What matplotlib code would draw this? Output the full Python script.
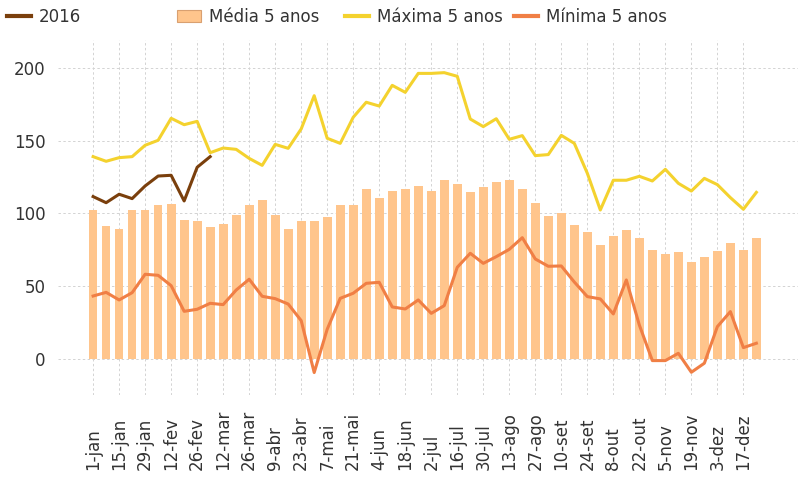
import matplotlib
matplotlib.use("Agg")
import matplotlib.pyplot as plt
from matplotlib.lines import Line2D
from matplotlib.patches import Patch
import numpy as np

weeks = ["1-jan", "8-jan", "15-jan", "22-jan", "29-jan", "5-fev", "12-fev", "19-fev", "26-fev", "5-mar",
         "12-mar", "19-mar", "26-mar", "2-abr", "9-abr", "16-abr", "23-abr", "30-abr", "7-mai", "14-mai",
         "21-mai", "28-mai", "4-jun", "11-jun", "18-jun", "25-jun", "2-jul", "9-jul", "16-jul", "23-jul",
         "30-jul", "6-ago", "13-ago", "20-ago", "27-ago", "3-set", "10-set", "17-set", "24-set", "1-out",
         "8-out", "15-out", "22-out", "29-out", "5-nov", "12-nov", "19-nov", "26-nov", "3-dez", "10-dez",
         "17-dez", "24-dez"]

media_5 = [102.2, 91.4, 89.4, 102.2, 102.2, 105.8, 106.5, 95.5, 94.9, 90.8,
           92.8, 99.2, 105.8, 109.3, 99.2, 89.4, 94.9, 94.9, 97.8, 105.8,
           105.8, 116.8, 110.9, 115.4, 116.8, 118.9, 115.4, 123.0, 120.2, 114.8,
           118.2, 121.6, 123.0, 116.8, 107.2, 98.5, 100.4, 92.1, 87.3, 78.4,
           84.6, 88.7, 83.2, 75.0, 72.2, 73.6, 66.8, 70.2, 74.3, 79.8,
           75.0, 83.2]

maxima_5 = [139.0, 135.8, 138.3, 139.0, 146.8, 150.2, 165.3, 160.9, 163.2, 141.7,
            144.9, 144.0, 137.8, 133.0, 147.4, 144.7, 158.0, 180.8, 151.6, 148.1,
            166.0, 176.3, 173.7, 187.9, 183.1, 196.1, 196.1, 196.6, 194.1, 164.8,
            159.6, 165.0, 150.9, 153.4, 139.7, 140.4, 153.6, 148.1, 127.6, 102.4,
            122.8, 122.8, 125.5, 122.3, 130.3, 120.7, 115.4, 124.1, 119.8, 110.9,
            102.9, 114.5]

minima_5 = [43.4, 45.9, 40.7, 45.7, 58.3, 57.6, 50.5, 32.9, 34.3, 38.4,
            37.5, 47.5, 54.9, 43.2, 41.6, 37.9, 26.5, -9.1, 20.6, 41.8,
            45.3, 52.1, 52.8, 35.9, 34.5, 40.7, 31.5, 36.8, 63.1, 72.7,
            65.8, 70.4, 75.4, 83.4, 68.8, 63.8, 64.0, 53.0, 43.0, 41.4,
            31.1, 54.4, 23.5, -0.9, -0.9, 4.1, -8.9, -2.7, 22.4, 32.7,
            8.0, 11.0]

y2016 = [111.6, 107.4, 113.2, 110.2, 118.9, 125.7, 126.2, 108.6, 131.7, 139.0]

yticks = [0, 50, 100, 150, 200]

c_bar = "#FFC58C"
c_max = "#F4D22E"
c_min = "#F07F45"
c_2016 = "#7A3F0C"
c_text = "#333333"
c_grid = "#D3D3D3"

plt.rcParams['font.family'] = ['DejaVu Sans']

fig = plt.figure(figsize=(7.98, 4.79), dpi=100)
ax = fig.add_axes([58 / 798, 1 - 395 / 479, 1 - 58 / 798, (395 - 40) / 479])

x = np.arange(len(weeks))
ax.bar(x, media_5, width=0.67, color=c_bar, zorder=2)
ax.plot(x, maxima_5, color=c_max, lw=2.2, zorder=3)
ax.plot(x, minima_5, color=c_min, lw=2.2, zorder=3)
ax.plot(x[:len(y2016)], y2016, color=c_2016, lw=2.2, zorder=4)

ax.set_xlim(-2.7, 54.2)
ax.set_ylim(-24.5, 219)
ax.set_yticks(yticks)
ax.set_yticklabels([str(v) for v in yticks])
ax.set_xticks(x[::2])
ax.set_xticklabels(weeks[::2], rotation=90, va='bottom', ha='center')

for s in ax.spines.values():
    s.set_visible(False)
ax.tick_params(axis='y', length=0, pad=9, labelsize=12, labelcolor=c_text)
ax.tick_params(axis='x', length=0, pad=54, labelsize=12, labelcolor=c_text)
ax.grid(True, axis='both', color=c_grid, linestyle=(0, (2.5, 2.5)), lw=0.7, zorder=0)
ax.set_axisbelow(True)

handles = [
    Line2D([], [], color=c_2016, lw=3),
    Patch(facecolor=c_bar, edgecolor="#D9A070", lw=0.8),
    Line2D([], [], color=c_max, lw=3),
    Line2D([], [], color=c_min, lw=3),
]
labels = ["2016", "Média 5 anos", "Máxima 5 anos", "Mínima 5 anos"]
xs = [4, 174, 342, 511]
for h, l, xp in zip(handles, labels, xs):
    fig.legend(handles=[h], labels=[l], loc='center left',
               bbox_to_anchor=(xp / 798, 1 - 17 / 479), frameon=False,
               fontsize=12, labelcolor=c_text, handlelength=1.4,
               handletextpad=0.5, borderaxespad=0, borderpad=0.2)

fig.savefig("out.png", dpi=100)
